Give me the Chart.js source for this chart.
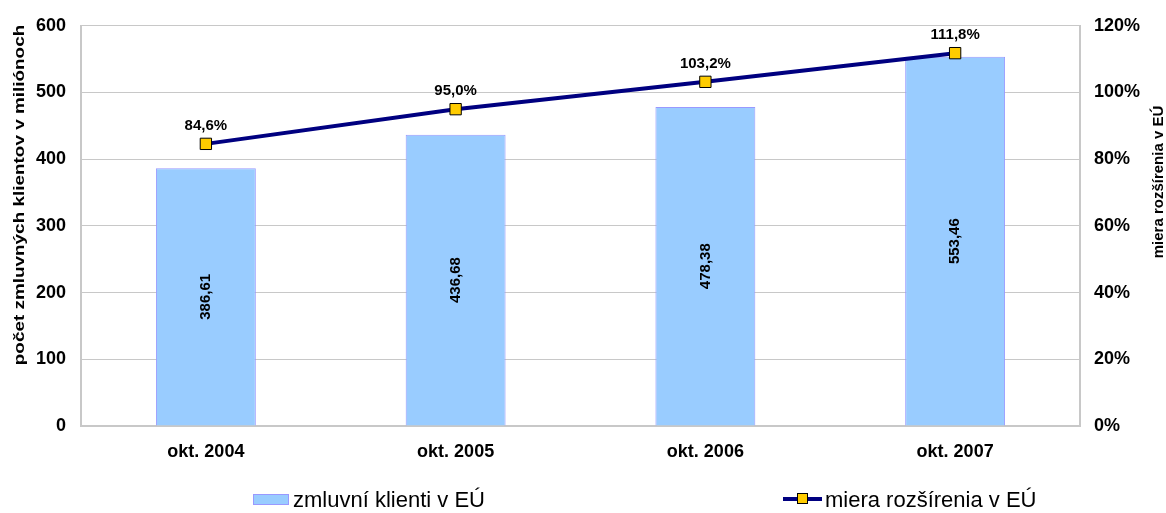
<!DOCTYPE html>
<html>
<head>
<meta charset="utf-8">
<script src="https://cdn.jsdelivr.net/npm/chart.js@4.4.1/dist/chart.umd.min.js"></script>
<style>
  html, body { margin: 0; padding: 0; background: #fff; }
  #wrap { position: relative; width: 1166px; height: 513px; font-family: "Liberation Sans", Arial, sans-serif; }
  #chart { position: absolute; left: 0; top: 0; }
  .lg { position: absolute; top: 487px; font-size: 22px; color: #000; white-space: nowrap; }
  .lg-box { position: absolute; left: 253px; top: 494px; width: 34px; height: 9px; background: #99ccff; border: 1px solid #9999ff; }
  .lg-line { position: absolute; left: 783px; top: 497px; width: 39px; height: 4px; background: #000080; }
  .lg-mark { position: absolute; left: 797px; top: 493px; width: 9px; height: 9px; background: #ffcc00; border: 1px solid #000; }
</style>
</head>
<body>
<div id="wrap">
  <canvas id="chart" width="1166" height="513"></canvas>
  <div class="lg-box"></div>
  <div class="lg" style="left:293px">zmluvní klienti v EÚ</div>
  <div class="lg-line"></div>
  <div class="lg-mark"></div>
  <div class="lg" style="left:825px">miera rozšírenia v EÚ</div>
</div>
<script>
'use strict';

const LABELS = ['okt. 2004', 'okt. 2005', 'okt. 2006', 'okt. 2007'];
const KLIENTI = [386.61, 436.68, 478.38, 553.46];
const MIERA = [0.846, 0.950, 1.032, 1.118];
const BAR_LABELS = ['386,61', '436,68', '478,38', '553,46'];
const LINE_LABELS = ['84,6%', '95,0%', '103,2%', '111,8%'];
const TITLE_LEFT = 'počet zmluvných klientov v miliónoch';
const TITLE_RIGHT = 'miera rozšírenia v EÚ';

const FONT = '"Liberation Sans", Arial, sans-serif';
const GRID = '#c8c8c8';

// data labels + rotated axis titles (no datalabels plugin available)
const labelsPlugin = {
  id: 'labels',
  afterDatasetsDraw(chart) {
    const ctx = chart.ctx;
    ctx.save();
    ctx.fillStyle = '#000';
    ctx.textAlign = 'center';
    ctx.textBaseline = 'middle';

    chart.getDatasetMeta(0).data.forEach((bar, i) => {
      const cy = (bar.y + bar.base) / 2;
      ctx.save();
      ctx.translate(bar.x, cy);
      ctx.rotate(-Math.PI / 2);
      ctx.font = `bold 15px ${FONT}`;
      ctx.fillText(BAR_LABELS[i], 0, 0);
      ctx.restore();
    });

    ctx.font = `bold 15px ${FONT}`;
    chart.getDatasetMeta(1).data.forEach((pt, i) => {
      ctx.fillText(LINE_LABELS[i], pt.x, pt.y - 18);
    });

    // left title is drawn stretched along its length, like the original
    [[20, 195, TITLE_LEFT, 15.5, 1.22], [1159, 182, TITLE_RIGHT, 15, 1]].forEach(([x, y, t, sz, sx]) => {
      ctx.save();
      ctx.translate(x, y);
      ctx.rotate(-Math.PI / 2);
      ctx.scale(sx, 1);
      ctx.font = `bold ${sz}px ${FONT}`;
      ctx.fillText(t, 0, 0);
      ctx.restore();
    });
    ctx.restore();
  }
};

new Chart(document.getElementById('chart'), {
  data: {
    labels: LABELS,
    datasets: [{
      type: 'bar',
      label: 'zmluvní klienti v EÚ',
      data: KLIENTI,
      yAxisID: 'y',
      backgroundColor: '#99ccff',
      borderColor: '#9999ff',
      borderWidth: 1,
      categoryPercentage: 0.8,
      barPercentage: 0.5,
      order: 1
    }, {
      type: 'line',
      label: 'miera rozšírenia v EÚ',
      data: MIERA,
      yAxisID: 'y1',
      borderColor: '#000080',
      borderWidth: 4,
      pointStyle: 'rect',
      pointRadius: 8,
      pointBackgroundColor: '#ffcc00',
      pointBorderColor: '#000',
      pointBorderWidth: 1,
      tension: 0,
      order: 0
    }]
  },
  options: {
    responsive: false,
    animation: false,
    layout: { padding: { top: 19, left: 0, right: 0, bottom: 0 } },
    plugins: { legend: { display: false }, tooltip: { enabled: false } },
    scales: {
      x: {
        offset: true,
        grid: { display: false, drawTicks: false },
        border: { display: true, color: GRID, width: 2 },
        ticks: { color: '#000', font: { family: FONT, size: 18, weight: 'bold' }, padding: 15 },
        afterFit(s) { s.height = 87; }
      },
      y: {
        position: 'left',
        min: 0, max: 600,
        grid: { color: GRID, drawTicks: false },
        border: { display: true, color: GRID, width: 2 },
        ticks: { stepSize: 100, color: '#000', font: { family: FONT, size: 18, weight: 'bold' }, padding: 15 },
        afterFit(s) { s.width = 81; }
      },
      y1: {
        position: 'right',
        min: 0, max: 1.2,
        grid: { display: false, drawTicks: false },
        border: { display: true, color: GRID, width: 2 },
        ticks: {
          stepSize: 0.2, color: '#000', padding: 14,
          font: { family: FONT, size: 18, weight: 'bold' },
          callback: (v) => Math.round(v * 100) + '%'
        },
        afterFit(s) { s.width = 86; }
      }
    }
  },
  plugins: [labelsPlugin]
});
</script>
</body>
</html>
